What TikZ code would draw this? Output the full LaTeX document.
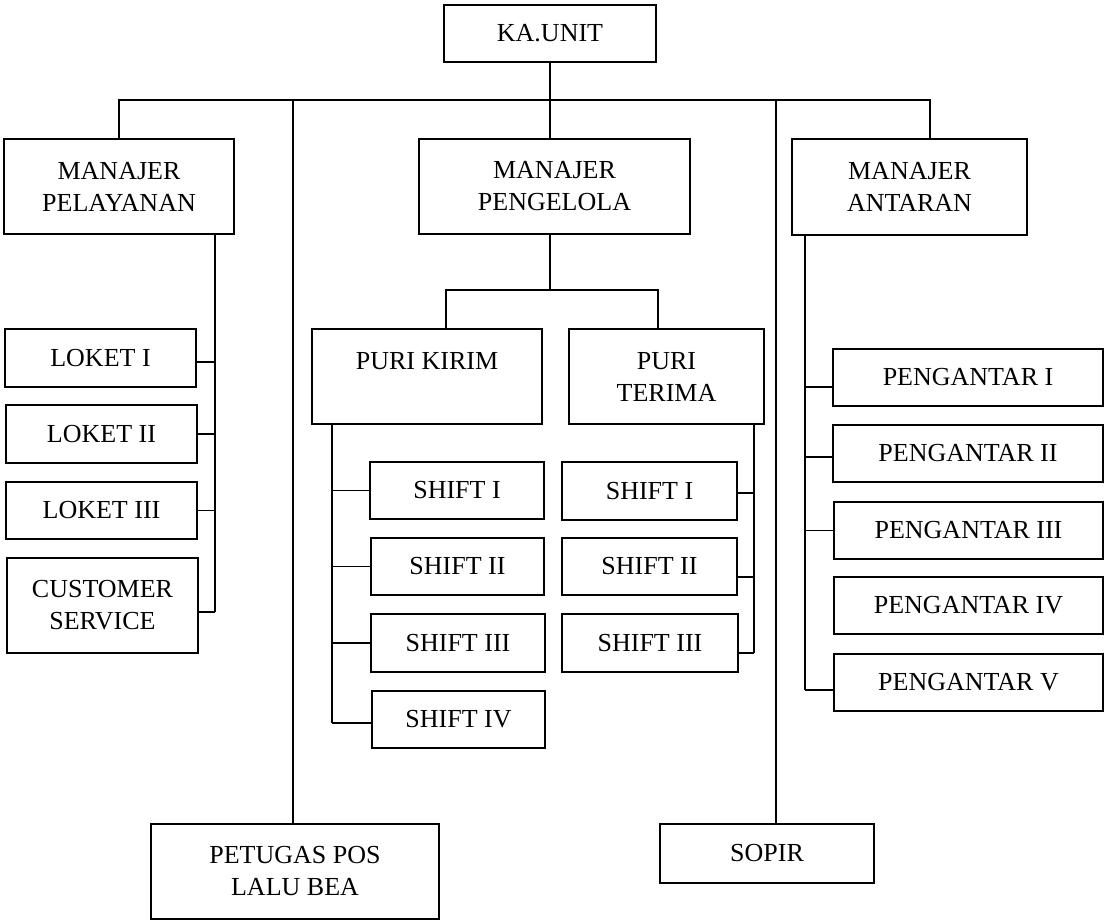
\documentclass[tikz,border=0pt]{standalone}
\usepackage{fontspec}
\setmainfont{Liberation Serif}
\usetikzlibrary{calc}
\tikzset{
  box/.style={draw, line width=1.5pt, inner sep=0pt, align=center, font=\fontsize{19.5}{24}\selectfont},
  conn/.style={line width=1.3pt}
}
\newcommand\obox[6]{\node[box, minimum width={(#4-#2)*0.75pt}, minimum height={(#5-#3)*0.75pt}] (#1) at ({(#2+#4)/2},{(#3+#5)/2}) {#6};}
\begin{document}
\begin{tikzpicture}[x=0.75pt,y=-0.75pt]
\useasboundingbox (0,0) rectangle (1105,921);
% top
\obox{ka}{444}{5}{656}{62}{KA.UNIT}
\obox{mp}{4}{139}{234}{234}{MANAJER\\PELAYANAN}
\obox{mg}{419}{139}{690}{234}{MANAJER\\PENGELOLA}
\obox{ma}{792}{139}{1027}{235}{MANAJER\\ANTARAN}
\obox{pet}{151}{824}{439}{919}{PETUGAS POS\\LALU BEA}
\obox{sop}{660}{824}{874}{883}{SOPIR}
% pelayanan
\obox{lk1}{5}{329}{196}{387}{LOKET I}
\obox{lk2}{6}{405}{197}{463}{LOKET II}
\obox{lk3}{6}{482}{197}{539}{LOKET III}
\obox{cs}{7}{558}{198}{653}{CUSTOMER\\SERVICE}
% pengelola
\obox{pk}{312}{329}{542}{424}{PURI KIRIM\\\mbox{}}
\obox{pt}{569}{329}{764}{424}{PURI\\TERIMA}
\obox{s1}{370}{462}{544}{519}{SHIFT I}
\obox{s2}{371}{538}{544}{595}{SHIFT II}
\obox{s3}{371}{614}{545}{672}{SHIFT III}
\obox{s4}{372}{691}{545}{748}{SHIFT IV}
\obox{t1}{562}{462}{737}{520}{SHIFT I}
\obox{t2}{562}{538}{737}{595}{SHIFT II}
\obox{t3}{562}{614}{738}{672}{SHIFT III}
% antaran
\obox{p1}{833}{349}{1103}{406}{PENGANTAR I}
\obox{p2}{833}{425}{1103}{482}{PENGANTAR II}
\obox{p3}{834}{502}{1103}{559}{PENGANTAR III}
\obox{p4}{834}{577}{1103}{634}{PENGANTAR IV}
\obox{p5}{834}{654}{1103}{711}{PENGANTAR V}
% coordinates
\coordinate (busR) at (930,100);
\coordinate (petL) at (293,100);
\coordinate (sopL) at (776,100);
\coordinate (mpS) at (215,612);
\coordinate (pkTop) at (446,290);
\coordinate (ptTop) at (658,290);
\coordinate (pkS) at (332,723);
\coordinate (ptS) at (754,653);
\coordinate (maS) at (805,690);
% connectors
\draw[conn] (mp.north) |- (busR) -- (busR |- ma.north);
\draw[conn] (ka.south) -- (ka.south |- mg.north);
\draw[conn] (petL) -- (petL |- pet.north);
\draw[conn] (sopL) -- (sopL |- sop.north);
% pelayanan
\draw[conn] (mpS |- mp.south) -- (mpS);
\draw[conn] ($(lk1.east)+(0,4)$) -- ($(lk1.east -| mpS)+(0,4)$);
\draw[conn] (lk2.east) -- (lk2.east -| mpS);
\draw[conn] (lk3.east) -- (lk3.east -| mpS);
\draw[conn] ($(cs.east)+(0,6.5)$) -- ($(cs.east -| mpS)+(0,6.5)$);
% pengelola
\draw[conn] (ka.south |- mg.south) -- (ka.south |- pkTop);
\draw[conn] (pkTop |- pk.north) |- (ptTop) -- (ptTop |- pt.north);
\draw[conn] (pkS |- pk.south) -- (pkS);
\draw[conn] (s1.west) -- (s1.west -| pkS);
\draw[conn] (s2.west) -- (s2.west -| pkS);
\draw[conn] (s3.west) -- (s3.west -| pkS);
\draw[conn] ($(s4.west)+(0,3.5)$) -- ($(s4.west -| pkS)+(0,3.5)$);
\draw[conn] (ptS |- pt.south) -- (ptS);
\draw[conn] ($(t1.east)+(0,2)$) -- ($(t1.east -| ptS)+(0,2)$);
\draw[conn] ($(t2.east)+(0,10.5)$) -- ($(t2.east -| ptS)+(0,10.5)$);
\draw[conn] ($(t3.east)+(0,10)$) -- ($(t3.east -| ptS)+(0,10)$);
% antaran
\draw[conn] (maS |- ma.south) -- (maS);
\draw[conn] ($(p1.west)+(0,9.5)$) -- ($(p1.west -| maS)+(0,9.5)$);
\draw[conn] ($(p2.west)+(0,3.5)$) -- ($(p2.west -| maS)+(0,3.5)$);
\draw[conn] (p3.west) -- (p3.west -| maS);
\draw[conn] ($(p5.west)+(0,7.5)$) -- ($(p5.west -| maS)+(0,7.5)$);
\end{tikzpicture}
\end{document}
